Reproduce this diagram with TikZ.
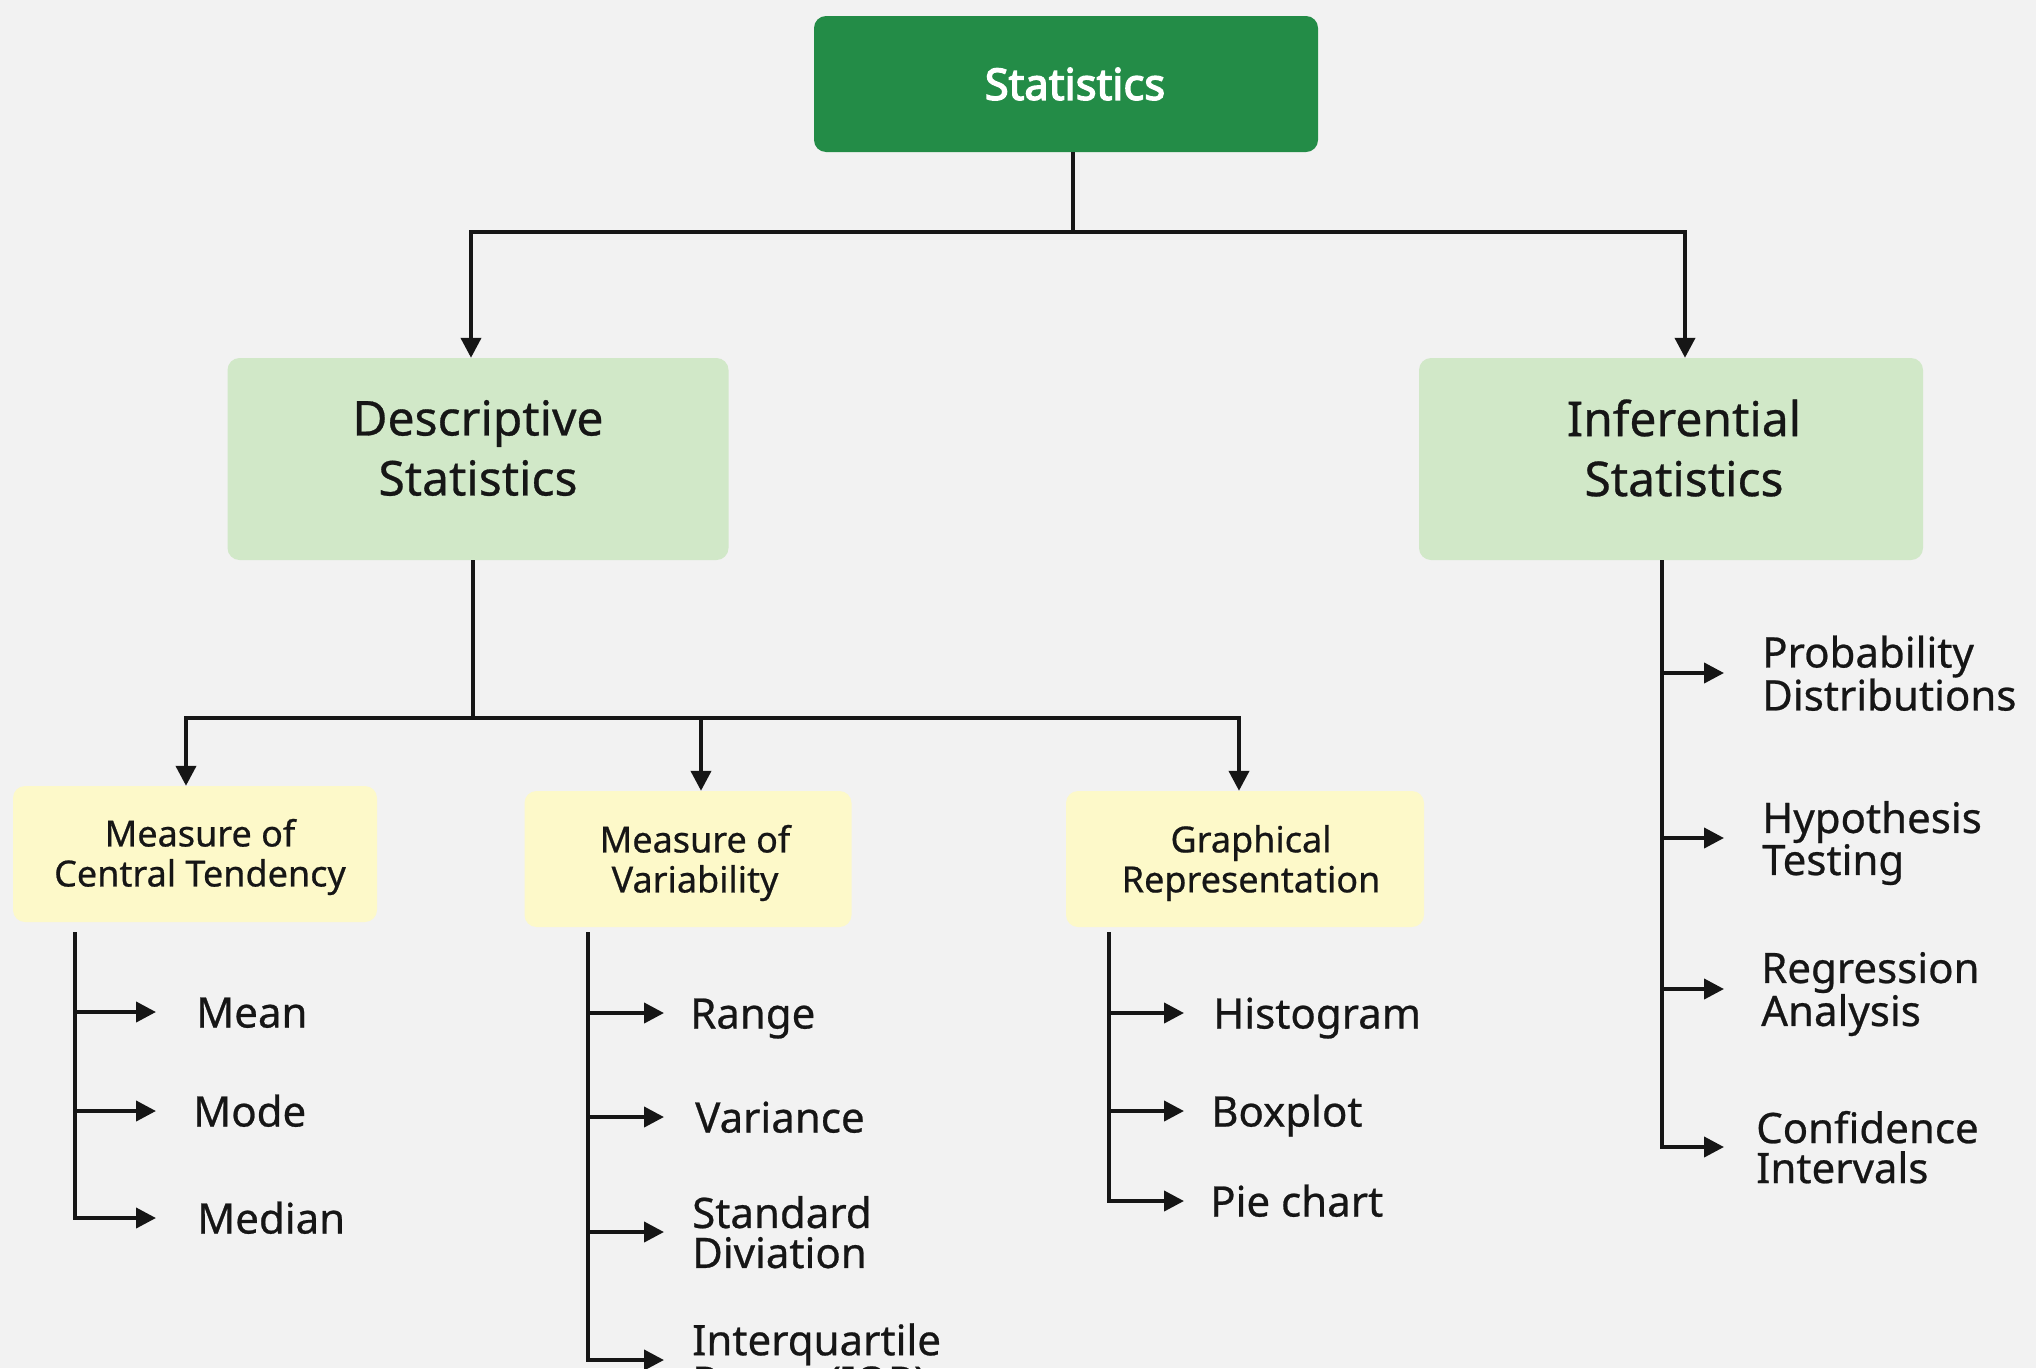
\documentclass[tikz,border=0pt]{standalone}
\usepackage{fontspec}
\setmainfont{Noto Sans}[FakeBold=0.6]
\newfontfamily\statfont{Noto Sans}[FakeBold=3.2]
\usetikzlibrary{arrows.meta,calc}
\definecolor{bg}{HTML}{F2F2F2}
\definecolor{darkg}{HTML}{238C47}
\definecolor{lightg}{HTML}{D1E8C8}
\definecolor{lighty}{HTML}{FDF9C9}
\definecolor{ink}{HTML}{161616}
\begin{document}
\begin{tikzpicture}[x=1pt,y=-1pt,
  conn/.style={line width=4pt, draw=ink},
  arr/.style={conn, -{Triangle[length=20pt,width=20pt]}},
  leafarr/.style={arr, shorten >=27pt},
  boxbase/.style={rectangle, rounded corners=12pt, inner sep=0pt},
  txt/.style={inner sep=0pt, align=center, text=ink},
  topbox/.style={boxbase, fill=darkg, minimum width=504pt, minimum height=136pt},
  midbox/.style={boxbase, fill=lightg, minimum width=501pt, minimum height=202pt},
  subbox/.style={boxbase, fill=lighty, minimum height=136pt},
  toptxt/.style={txt, text=white, font=\statfont\fontsize{43.5}{48}\selectfont},
  midtxt/.style={txt, font=\fontsize{48}{60}\selectfont},
  subtxt/.style={txt, font=\fontsize{36}{40}\selectfont},
  leaf/.style={anchor=west, inner sep=0pt, align=left, text=ink, text depth=0pt, font=\fontsize{42}{40}\selectfont},
  leafone/.style={leaf, text height=31pt}]
\useasboundingbox (0,0) rectangle (2036,1368);
\fill[bg] (0,0) rectangle (2036,1368);
\clip (0,0) rectangle (2036,1368);

% main boxes
\node[topbox] (stat) at (1066,84) {};
\node[toptxt] (statt) at ($(stat.center)+(9,0)$) {Statistics};
\node[midbox] (desc) at (478,459) {};
\node[midtxt] (desct) at ($(desc.center)+(0,-11)$) {Descriptive\\Statistics};
\node[midbox, minimum width=504pt] (inf) at (1671,459) {};
\node[midtxt] (inft) at ($(inf.center)+(13,-11)$) {Inferential\\Statistics};

\node[subbox, minimum width=364pt] (ct) at (195,854) {};
\node[subtxt] (ctt) at ($(ct.center)+(5,3)$) {Measure of\\Central Tendency};
\node[subbox, minimum width=327pt] (var) at (688,859) {};
\node[subtxt] (vart) at ($(var.center)+(7,4)$) {Measure of\\Variability};
\node[subbox, minimum width=358pt] (graph) at (1245,859) {};
\node[subtxt] (grapht) at ($(graph.center)+(6,4)$) {Graphical\\Representation};

% leaves
\node[leafone] (mean) at (196,1012) {Mean};
\node[leafone] (mode) at (193,1111) {Mode};
\node[leafone] (median) at (197,1218) {Median};

\node[leafone] (range) at (690,1013) {Range};
\node[leafone] (variance) at (695,1117) {Variance};
\node[leaf] (sd) at (692,1232) {Standard\\Diviation};
\node[leaf] (iqr) at (692,1360) {Interquartile\\Range (IQR)};

\node[leafone] (hist) at (1213,1013) {Histogram};
\node[leafone] (box) at (1211,1111) {Boxplot};
\node[leafone] (pie) at (1210,1201) {Pie chart};

\node[leaf] (prob) at (1762,673) {Probability\\Distributions};
\node[leaf] (hyp) at (1762,838) {Hypothesis\\Testing};
\node[leaf] (reg) at (1761,989) {Regression\\Analysis};
\node[leaf] (conf) at (1756,1147) {Confidence\\Intervals};

% connectors: top level
\coordinate (j1) at ([xshift=7pt]stat.south |- 0,232);
\draw[conn] ([xshift=7pt]stat.south) -- (j1);
\draw[arr] (j1) -| ([xshift=-7pt]desc.north);
\draw[arr] (j1) -| ([xshift=14pt]inf.north);

% descriptive branch
\coordinate (j2) at ([xshift=-5pt]desc.south |- 0,718);
\draw[conn] ([xshift=-5pt]desc.south) -- (j2);
\draw[arr] (j2) -| ([xshift=-9pt]ct.north);
\draw[arr] (j2) -| ([xshift=13pt]var.north);
\draw[arr] (j2) -| ([xshift=-6pt]graph.north);

% leaf trunks
\coordinate (tct) at (75,932);
\coordinate (tvar) at (588,932);
\coordinate (tgr) at (1109,932);
\coordinate (tinf) at (1662,560);

\draw[leafarr, shorten >=40pt] (tct) |- (mean.west);
\draw[leafarr, shorten >=37pt] (tct) |- (mode.west);
\draw[leafarr, shorten >=41pt] (tct) |- (median.west);

\draw[leafarr, shorten >=26pt] (tvar) |- (range.west);
\draw[leafarr, shorten >=31pt] (tvar) |- (variance.west);
\draw[leafarr, shorten >=28pt] (tvar) |- (sd.west);
\draw[leafarr, shorten >=28pt] (tvar) |- (iqr.west);

\draw[leafarr, shorten >=29pt] (tgr) |- (hist.west);
\draw[leafarr, shorten >=27pt] (tgr) |- (box.west);
\draw[leafarr, shorten >=26pt] (tgr) |- (pie.west);

\draw[leafarr, shorten >=38pt] (tinf) |- (prob.west);
\draw[leafarr, shorten >=38pt] (tinf) |- (hyp.west);
\draw[leafarr, shorten >=37pt] (tinf) |- (reg.west);
\draw[leafarr, shorten >=32pt] (tinf) |- (conf.west);
\end{tikzpicture}
\end{document}
